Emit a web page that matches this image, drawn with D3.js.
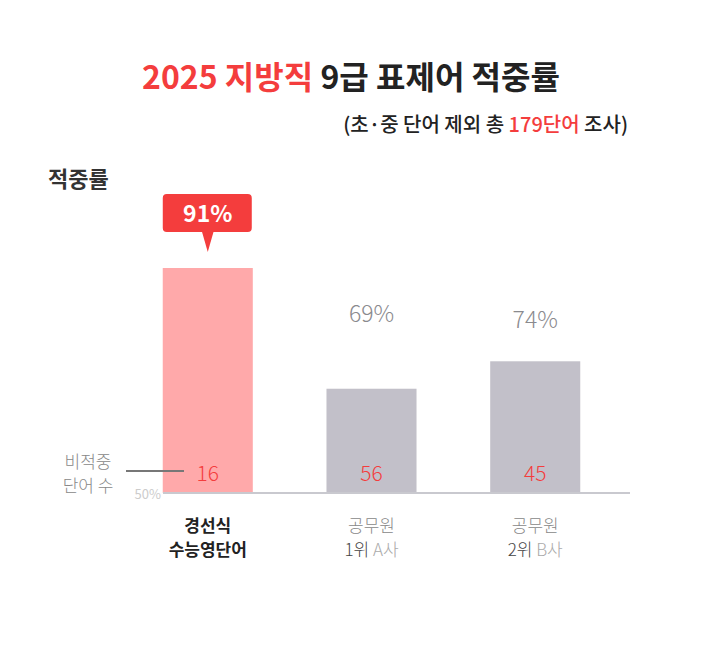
<!DOCTYPE html>
<html><head><meta charset="utf-8">
<script src="https://cdn.jsdelivr.net/npm/d3@7"></script>
<style>body{margin:0;background:#fff}text{font-family:"Noto Sans CJK KR","Noto Sans",sans-serif}</style>
</head><body>
<svg id="c" width="702" height="649"></svg>
<script>
var categories = ["경선식\n수능영단어", "공무원\n1위 A사", "공무원\n2위 B사"];
var rates = [91, 69, 74];
var missed = [16, 56, 45];

var svg = d3.select("#c");
var x = d3.scaleBand().domain(categories).range([130, 613]).paddingInner(0.45).paddingOuter(0.2);
var y = d3.scaleLinear().domain([50, 91]).range([493, 268]);

// title
var t = svg.append("text").attr("x", 351).attr("y", 89).attr("text-anchor", "middle")
    .attr("font-size", 32).attr("font-weight", 700);
t.append("tspan").attr("fill", "#f43d3d").text("2025 지방직 ");
t.append("tspan").attr("fill", "#222").text("9급 표제어 적중률");
var s = svg.append("text").attr("x", 628).attr("y", 132).attr("text-anchor", "end")
    .attr("font-size", 20).attr("fill", "#222").attr("font-weight", 500);
s.append("tspan").text("(초·중 단어 제외 총 ");
s.append("tspan").attr("fill", "#f43d3d").text("179단어");
s.append("tspan").text(" 조사)");
svg.append("text").attr("x", 48).attr("y", 187).attr("font-size", 22).attr("font-weight", 700)
    .attr("fill", "#333").text("적중률");

// bars
svg.selectAll("rect.bar").data(rates).enter().append("rect").attr("class", "bar")
    .attr("x", function (d, i) { return x(categories[i]); })
    .attr("width", x.bandwidth())
    .attr("y", function (d) { return y(d); })
    .attr("height", function (d) { return y(50) - y(d); })
    .attr("fill", function (d, i) { return i == 0 ? "#ffa9aa" : "#c2c0c9"; });

// axis line
svg.append("line").attr("x1", 163).attr("x2", 630).attr("y1", y(50)).attr("y2", y(50))
    .attr("stroke", "#c9c9cf").attr("stroke-width", 2);
svg.append("text").attr("x", 161).attr("y", 499).attr("text-anchor", "end")
    .attr("font-size", 13).attr("fill", "#ccc").text("50%");

// value labels
var labelGap = [0, 67, 33];
rates.forEach(function (d, i) {
    var cx = x(categories[i]) + x.bandwidth() / 2;
    if (i == 0) {
        var g = svg.append("g");
        g.append("rect").attr("x", cx - 45).attr("y", y(d) - 74).attr("width", 89).attr("height", 38)
            .attr("rx", 4).attr("fill", "#f43d3d");
        g.append("path").attr("d", "M" + (cx - 6) + "," + (y(d) - 37) + "L" + cx + "," + (y(d) - 16) + "L" + (cx + 6) + "," + (y(d) - 37) + "Z")
            .attr("fill", "#f43d3d");
        g.append("text").attr("x", cx).attr("y", y(d) - 46).attr("text-anchor", "middle")
            .attr("font-size", 23).attr("font-weight", 700).attr("fill", "#fff").text(d + "%");
    } else {
        svg.append("text").attr("x", cx).attr("y", y(d) - labelGap[i]).attr("text-anchor", "middle")
            .attr("font-size", 23).attr("font-weight", 300).attr("fill", "#8a8a8e").text(d + "%");
    }
    svg.append("text").attr("x", cx).attr("y", 481).attr("text-anchor", "middle")
        .attr("font-size", 21).attr("font-weight", 300).attr("fill", "#f43d3d").text(missed[i]);
    var lines = categories[i].split("\n");
    lines.forEach(function (l, j) {
        var tt = svg.append("text").attr("x", cx).attr("y", 532 + j * 24).attr("text-anchor", "middle")
            .attr("font-size", 17).attr("fill", i == 0 ? "#222" : "#888")
            .attr("font-weight", i == 0 ? 700 : 300);
        if (i > 0 && j == 1) {
            var p = l.split(" ");
            tt.append("tspan").attr("fill", "#444").text(p[0] + " ");
            tt.append("tspan").attr("fill", "#aaa").text(p[1]);
        } else tt.text(l);
    });
});

// side note
svg.append("text").attr("x", 88).attr("y", 468).attr("text-anchor", "middle").attr("font-size", 17)
    .attr("font-weight", 300).attr("fill", "#888").text("비적중");
svg.append("text").attr("x", 88).attr("y", 492).attr("text-anchor", "middle").attr("font-size", 17)
    .attr("font-weight", 300).attr("fill", "#888").text("단어 수");
svg.append("line").attr("x1", 126).attr("x2", 184).attr("y1", 471).attr("y2", 471)
    .attr("stroke", "#777").attr("stroke-width", 2);
</script>
</body></html>
